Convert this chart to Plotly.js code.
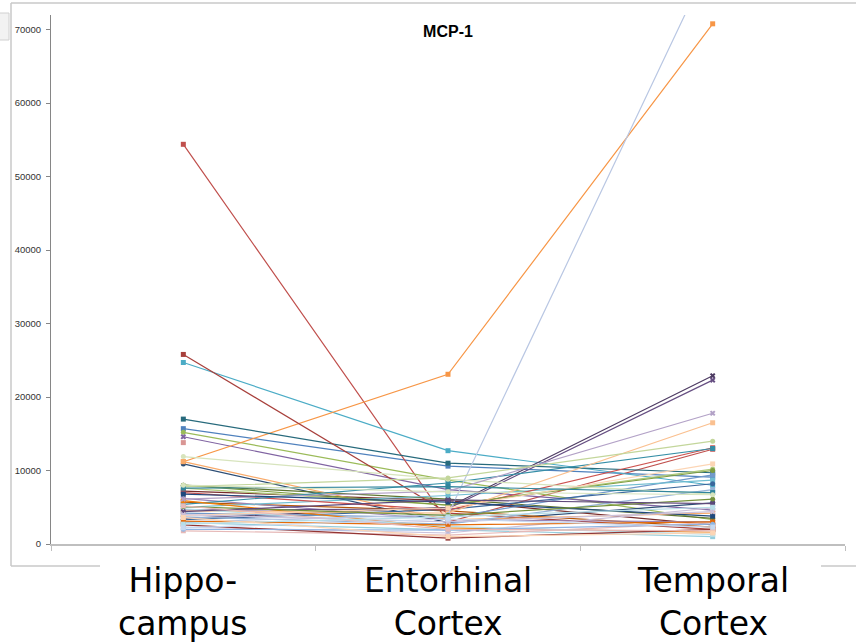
<!DOCTYPE html>
<html>
<head>
<meta charset="utf-8">
<script src="https://cdn.plot.ly/plotly-3.0.1.min.js"></script>
<style>
html,body{margin:0;padding:0;background:#fff;}
#chart{width:856px;height:644px;}
</style>
</head>
<body>
<div id="chart"></div>
<script>
// Categories and tick labels
const categories = ["Hippocampus", "Entorhinal Cortex", "Temporal Cortex"];
const tickLabels = ["Hippo-<br>campus", "Entorhinal<br>Cortex", "Temporal<br>Cortex"];
const chartTitle = "MCP-1";

// One value per subject (series) for each region
const hippocampus = [15700, 54400, 15200, 14600, 24700, 11200, 10900, 7200, 8000, 3500,
  17000, 5700, 4200, 25800, 7600, 6200, 5000, 11200, 3300, 7000,
  8000, 4600, 5400, 5900, 3700, 13800, 11900, 6100, 2900, 4500,
  3000, 1800, 7800, 2300, 4800, 3900, 6800, 2600, 5100, 4400,
  7600, 3100, 2000, 5200, 8000, 4000, 2700, 3600, 2200];
const entorhinal = [10600, 3000, 8700, 7400, 12700, 23100, 2900, 5900, 6100, 5000,
  11000, 4500, 3600, 4200, 5300, 3300, 6600, 3300, 4700, 4600,
  5300, 4800, 8300, 2200, 2700, null, 8800, 7200, 2000, 4200,
  4000, 1200, 9000, 1500, 2400, 4900, 5700, 800, 3900, 6000,
  7800, 2600, 1900, 2000, 7100, 3000, 3700, 1000, 3400];
const temporal = [9100, 12900, 3300, 4600, 8000, 70800, 5600, 2600, 3500, 22900,
  9700, 2300, 9400, 2000, 10200, 3000, 8700, 4200, 8200, 13100,
  10000, 22300, 13000, 1600, 7400, null, 6800, 17800, 1000, 16500,
  80000, 2900, 14000, 4900, 1300, 10900, 3800, 2000, 6100, 5500,
  7000, 3000, 2700, 1800, 6700, 4400, 5000, 1500, 2300];

// Styling
const palette = ["#4F81BD","#C0504D","#9BBB59","#8064A2","#4BACC6","#F79646",
  "#2C4D75","#772C2A","#5F7530","#4D3B62","#276A7C","#B65708",
  "#729ACA","#A8403C","#AFC97A","#9983B5","#6FBDD1","#F9AB6B",
  "#3A679C","#CD5350","#7E9D40","#664F82","#358EA6","#F07F09",
  "#95B3D7","#D99694","#D7E4BD","#B3A2C7","#93CDDD","#FAC090",
  "#B9C7E3","#E6B9B8","#C3D69B","#CCC1DA","#B7DEE8","#FCD5B5",
  "#1F497D","#943634","#76923C","#5F497A","#31859C","#E46C0A",
  "#8EB4E3","#E6B9B8","#D7E4BD","#CCC1DA","#B7DEE8","#FCD5B5","#C6D9F1"];
const symbols = ['square','square','circle','x','square','square','circle','square','circle','x','square','square'];

const traces = hippocampus.map((h, i) => ({
  type: 'scatter',
  mode: 'lines+markers',
  x: categories,
  y: [h, entorhinal[i], temporal[i]],
  line: {color: palette[i % palette.length], width: 1.2},
  marker: {color: palette[i % palette.length], size: 5, symbol: symbols[i % symbols.length]},
  showlegend: false,
  hoverinfo: 'y'
}));

const px2x = px => (px - 51) / 794;
const px2y = py => (544 - py) / 529;
const frame = '#C8C8C8';

const shapes = [
  {type:'line', xref:'paper', yref:'paper', x0:px2x(11), x1:px2x(11), y0:px2y(3), y1:px2y(566), line:{color:frame, width:1.5}},
  {type:'line', xref:'paper', yref:'paper', x0:px2x(11), x1:px2x(860), y0:px2y(3), y1:px2y(3), line:{color:frame, width:1.5}},
  {type:'line', xref:'paper', yref:'paper', x0:px2x(11), x1:px2x(100), y0:px2y(566), y1:px2y(566), line:{color:frame, width:1.5}},
  {type:'line', xref:'paper', yref:'paper', x0:px2x(821), x1:px2x(860), y0:px2y(566), y1:px2y(566), line:{color:frame, width:1.5}},
  {type:'rect', xref:'paper', yref:'paper', x0:px2x(-2), x1:px2x(9), y0:px2y(13), y1:px2y(40), line:{color:'#D0D0D0', width:1}, fillcolor:'#F2F2F2'}
];

const labelFont = {family: '"DejaVu Sans", "Liberation Sans", sans-serif', size: 33, color: '#000'};
const annotations = categories.map((c, i) => ({
  xref:'x', yref:'paper', x:c, y:px2y(602), yanchor:'middle', xanchor:'center',
  text:tickLabels[i], showarrow:false, font:labelFont
}));

const layout = {
  width: 856, height: 644,
  margin: {l: 51, r: 11, t: 15, b: 100},
  paper_bgcolor: '#fff', plot_bgcolor: '#fff',
  title: {text: '<b>' + chartTitle + '</b>', x: 0.5, xref: 'paper', y: 1 - 31/644, yanchor: 'middle',
          font: {family: 'Liberation Sans, Arial, sans-serif', size: 16, color: '#000'}},
  xaxis: {
    type: 'category', range: [-0.5, 2.5],
    showline: true, linecolor: '#BFBFBF', linewidth: 1.5,
    showgrid: false, zeroline: false,
    ticks: 'outside', tickson: 'boundaries', ticklen: 5, tickcolor: '#BFBFBF',
    showticklabels: false
  },
  yaxis: {
    range: [0, 72000], dtick: 10000, tick0: 0, tickformat: 'd',
    showline: true, linecolor: '#868686', linewidth: 1,
    showgrid: false, zeroline: false,
    ticks: 'outside', ticklen: 4, tickcolor: '#868686',
    tickfont: {family: 'Liberation Sans, Arial, sans-serif', size: 9.5, color: '#333'},
    ticklabelstandoff: 3
  },
  shapes: shapes,
  annotations: annotations
};

Plotly.newPlot('chart', traces, layout, {displayModeBar: false, staticPlot: true});
</script>
</body>
</html>
